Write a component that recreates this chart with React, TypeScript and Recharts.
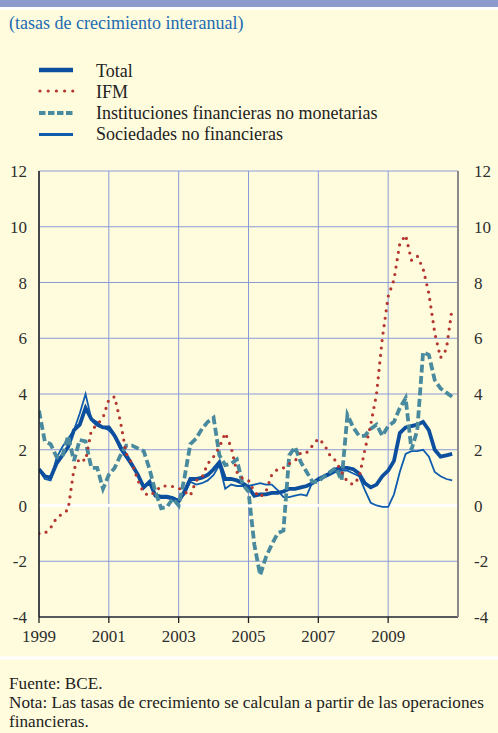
import React from "react";
import {
  CartesianGrid,
  Line,
  LineChart,
  ReferenceLine,
  XAxis,
  YAxis,
} from "recharts";

// bi-monthly observations, Jan 1999 .. Nov 2010
const START_YEAR = 1999;
const STEPS_PER_YEAR = 6;

const total = [
  1.3, 1.05, 1.0, 1.5, 1.8, 2.1,
  2.7, 2.9, 3.5, 3.1, 2.9, 2.8,
  2.8, 2.5, 2.1, 1.8, 1.45, 1.1,
  0.65, 0.85, 0.35, 0.3, 0.3, 0.25,
  0.15, 0.5, 0.95, 0.95, 1.0, 1.1,
  1.3, 1.55, 0.95, 0.95, 0.9, 0.8,
  0.65, 0.35, 0.4, 0.4, 0.45, 0.45,
  0.5, 0.6, 0.6, 0.65, 0.7, 0.8,
  0.95, 1.05, 1.15, 1.3, 1.35, 1.35,
  1.3, 1.15, 0.8, 0.65, 0.75, 1.05,
  1.25, 1.6, 2.6, 2.8, 2.85, 2.9,
  3.0, 2.7, 2.0, 1.75, 1.8, 1.85,
];

const ifm = [
  -1.0, -1.0, -0.8, -0.45, -0.3, -0.15,
  1.3, 1.7, 1.6, 2.7, 2.9, 3.15,
  3.8, 3.9, 3.0, 1.85, 1.5, 0.9,
  0.45, 0.35, 0.5, 0.7, 0.7, 0.68,
  0.62, 0.5, 0.35, 0.9, 1.0, 1.5,
  1.75, 2.1, 2.6, 2.1, 1.2, 0.97,
  0.9, 0.5, 0.3, 0.5, 1.1, 1.3,
  1.35, 1.5, 1.6, 1.9, 1.9, 2.15,
  2.4, 2.2, 1.8, 1.6, 1.2, 0.85,
  0.75, 1.0, 2.0, 2.9, 4.0, 6.0,
  7.5, 8.1, 9.4, 9.7, 8.8, 8.95,
  8.5, 7.6, 6.2, 5.3, 5.6, 7.1,
];

const ifnm = [
  3.4, 2.3, 2.2, 1.75, 1.75, 2.5,
  1.6, 2.35, 2.3, 1.35, 1.35, 0.6,
  1.1, 1.35, 1.8, 2.15, 2.15, 2.05,
  1.95, 1.3, 0.5, -0.1, -0.05, 0.25,
  0.0, 1.0, 2.2, 2.4, 2.75, 3.0,
  3.15, 1.8, 1.45, 1.5, 1.65, 0.75,
  0.5, -1.4, -2.5, -1.85, -1.4, -1.0,
  -0.9, 1.8, 2.1, 1.55, 1.2, 0.85,
  0.85, 1.05, 1.2, 1.35, 0.9, 3.25,
  2.8, 2.5, 2.5, 2.75, 2.9, 2.5,
  2.85, 3.0, 3.5, 3.85, 2.0, 2.7,
  5.5, 5.4, 4.5, 4.2, 4.05, 3.9,
];

const snf = [
  1.3, 0.95, 0.9, 1.7, 2.1, 2.4,
  2.7, 3.3, 4.0, 3.1, 3.0, 2.8,
  2.7, 2.5, 2.0, 1.7, 1.4, 1.1,
  0.7, 0.8, 0.4, 0.35, 0.35, 0.3,
  0.2, 0.4, 0.85, 0.75, 0.8, 0.9,
  1.1, 1.45, 0.6, 0.75, 0.7, 0.7,
  0.7, 0.75, 0.8, 0.75, 0.75, 0.55,
  0.3, 0.3, 0.35, 0.4, 0.35, 0.85,
  0.9, 1.0, 1.1, 1.2, 1.25, 1.25,
  1.15, 1.05, 0.55, 0.1, 0.0, -0.05,
  -0.05, 0.4, 1.2, 1.85, 1.95, 1.95,
  2.0, 1.75, 1.2, 1.05, 0.95, 0.9,
];

const xTicks = [1999, 2001, 2003, 2005, 2007, 2009];
const yTicks = [-4, -2, 0, 2, 4, 6, 8, 10, 12];

const data = total.map((v, i) => ({
  t: START_YEAR + i / STEPS_PER_YEAR,
  total: v,
  ifm: ifm[i],
  ifnm: ifnm[i],
  snf: snf[i],
}));

const FONT = "'Liberation Serif', 'Times New Roman', serif";
const BG = "#fffcde";
const GRID = "#8a9ad6";
const C_TOTAL = "#0c4f9e";
const C_IFM = "#b3362f";
const C_IFNM = "#4a8a9e";
const C_SNF = "#0f5cae";

const tickStyle = { fontSize: 17, fill: "#2e2e2e", fontFamily: FONT };

export default function App() {
  return (
    <div
      style={{
        position: "absolute",
        left: 0,
        top: 0,
        width: 498,
        height: 733,
        background: BG,
        fontFamily: FONT,
        overflow: "hidden",
      }}
    >
      <svg
        width={498}
        height={733}
        style={{ position: "absolute", left: 0, top: 0 }}
      >
        <rect x={0} y={0} width={498} height={7} fill="#8c9bcb" />
        <rect x={0} y={7} width={498} height={3} fill="#ffffff" />
        <text x={9} y={29} fontSize={18} fill="#1d6bb0" fontFamily={FONT}>
          (tasas de crecimiento interanual)
        </text>

        <line x1={39} x2={73} y1={70} y2={70} stroke={C_TOTAL} strokeWidth={4.7} />
        <text x={96} y={77} fontSize={18} fill="#222" fontFamily={FONT}>Total</text>

        <line
          x1={40} x2={73} y1={91} y2={91}
          stroke={C_IFM} strokeWidth={3.2} strokeDasharray="0 8.2" strokeLinecap="round"
        />
        <text x={96} y={97.5} fontSize={18} fill="#222" fontFamily={FONT}>IFM</text>

        <line
          x1={39} x2={73} y1={113} y2={113}
          stroke={C_IFNM} strokeWidth={4} strokeDasharray="6.5 2.5"
        />
        <text x={96} y={119} fontSize={18} fill="#222" fontFamily={FONT}>
          Instituciones financieras no monetarias
        </text>

        <line x1={39} x2={73} y1={134.5} y2={134.5} stroke={C_SNF} strokeWidth={3.2} />
        <text x={96} y={139.5} fontSize={18} fill="#222" fontFamily={FONT}>
          Sociedades no financieras
        </text>

        <rect x={0} y={656.5} width={498} height={3} fill="#ffffff" />
        <text x={9} y={689} fontSize={17.2} fill="#222" fontFamily={FONT}>Fuente: BCE.</text>
        <text x={9} y={708} fontSize={17.2} fill="#222" fontFamily={FONT}>
          Nota: Las tasas de crecimiento se calculan a partir de las operaciones
        </text>
        <text x={9} y={727} fontSize={17.2} fill="#222" fontFamily={FONT}>financieras.</text>
      </svg>

      <div style={{ position: "absolute", left: 0, top: 0 }}>
        <LineChart
          width={498}
          height={656}
          data={data}
          margin={{ top: 171, right: 10, bottom: 9, left: 9 }}
        >
          <CartesianGrid stroke={GRID} strokeWidth={1} yAxisId="left" />
          <XAxis
            dataKey="t"
            type="number"
            domain={[1999, 2011]}
            ticks={xTicks}
            allowDataOverflow
            height={30}
            tick={tickStyle}
            tickSize={6}
            tickMargin={7}
            axisLine={{ stroke: "#333", strokeWidth: 1.3 }}
            tickLine={{ stroke: "#222", strokeWidth: 1.3 }}
          />
          <YAxis
            yAxisId="left"
            domain={[-4, 12]}
            ticks={yTicks}
            allowDataOverflow
            width={30}
            tick={tickStyle}
            tickSize={6}
            tickMargin={6}
            tickLine={false}
            axisLine={{ stroke: "#111", strokeWidth: 1.4 }}
          />
          <YAxis
            yAxisId="right"
            orientation="right"
            type="number"
            domain={[-4, 12]}
            ticks={yTicks}
            allowDataOverflow
            width={30}
            tick={tickStyle}
            tickSize={6}
            tickMargin={10}
            tickLine={false}
            axisLine={{ stroke: "#8a8a8a", strokeWidth: 2 }}
          />
          <ReferenceLine yAxisId="left" y={0} stroke="#ffffff" strokeWidth={3} />
          <Line
            yAxisId="right"
            type="linear"
            dataKey="total"
            stroke="none"
            strokeWidth={0}
            dot={false}
            legendType="none"
            isAnimationActive={false}
          />
          <Line
            yAxisId="left"
            type="linear"
            dataKey="snf"
            stroke={C_SNF}
            strokeWidth={1.8}
            dot={false}
            isAnimationActive={false}
          />
          <Line
            yAxisId="left"
            type="linear"
            dataKey="total"
            stroke={C_TOTAL}
            strokeWidth={3.8}
            dot={false}
            isAnimationActive={false}
          />
          <Line
            yAxisId="left"
            type="linear"
            dataKey="ifnm"
            stroke={C_IFNM}
            strokeWidth={3.8}
            strokeDasharray="8 3.5"
            dot={false}
            isAnimationActive={false}
          />
          <Line
            yAxisId="left"
            type="linear"
            dataKey="ifm"
            stroke={C_IFM}
            strokeWidth={3.2}
            strokeDasharray="0 7.5"
            strokeLinecap="round"
            dot={false}
            isAnimationActive={false}
          />
        </LineChart>
      </div>
    </div>
  );
}
